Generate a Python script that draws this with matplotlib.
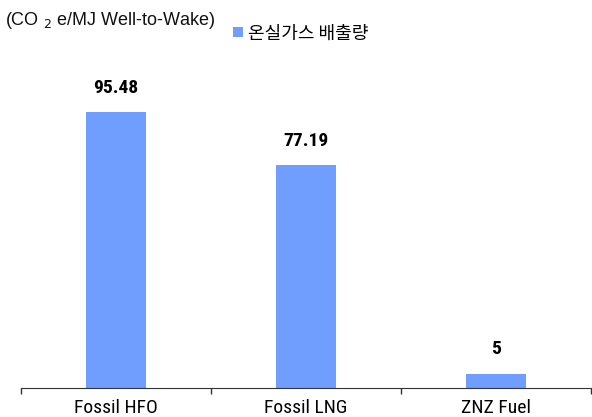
import matplotlib
matplotlib.use("Agg")
import matplotlib.pyplot as plt
from matplotlib.ticker import FixedLocator, NullFormatter

# data
categories = ["Fossil HFO", "Fossil LNG", "ZNZ Fuel"]
emissions = [95.48, 77.19, 5]
value_labels = ["95.48", "77.19", "5"]
series_name = "온실가스 배출량"

BAR_COLOR = "#709EFF"
NARROW = ["Roboto Condensed", "Liberation Sans", "DejaVu Sans"]

fig = plt.figure(figsize=(5.92, 4.17), dpi=100)
ax = fig.add_axes([0.0355, 0.0695, 0.963, 0.789])

x = list(range(len(categories)))
bars = ax.bar(x, emissions, width=0.315, color=BAR_COLOR, label=series_name, zorder=2)

for xi, v, lab in zip(x, emissions, value_labels):
    ax.annotate(lab, (xi, v), xytext=(0, 11), textcoords="offset points",
                ha="center", va="bottom", fontsize=14, fontweight="bold",
                family=NARROW)

ax.set_xlim(-0.5, 2.5)
ax.set_ylim(0, 114)

# category labels centred, tick marks on category boundaries
ax.xaxis.set_major_locator(FixedLocator([-0.5, 0.5, 1.5, 2.5]))
ax.xaxis.set_major_formatter(NullFormatter())
ax.xaxis.set_minor_locator(FixedLocator(x))
ax.set_xticklabels(categories, minor=True, fontsize=14, family=NARROW)
ax.tick_params(axis="x", which="major", direction="out", length=4, width=1, color="#333333")
ax.tick_params(axis="x", which="minor", length=0, pad=8)

ax.set_yticks([])
for s in ["left", "right", "top"]:
    ax.spines[s].set_visible(False)
ax.spines["bottom"].set_color("#333333")

fig.text(0.008, 0.95, "(CO $_{2}$ e/MJ Well-to-Wake)", fontsize=13,
         family="Liberation Sans", ha="left", va="center", color="#111111")

leg = fig.legend(handles=[bars], labels=[series_name], loc="center left",
                 bbox_to_anchor=(0.394, 0.92), frameon=False,
                 handlelength=0.55, handleheight=0.55, handletextpad=0.25,
                 borderpad=0, borderaxespad=0,
                 prop={"family": ["Noto Sans CJK KR", "DejaVu Sans"], "size": 13})

fig.savefig("out.png", dpi=100, facecolor="white")
